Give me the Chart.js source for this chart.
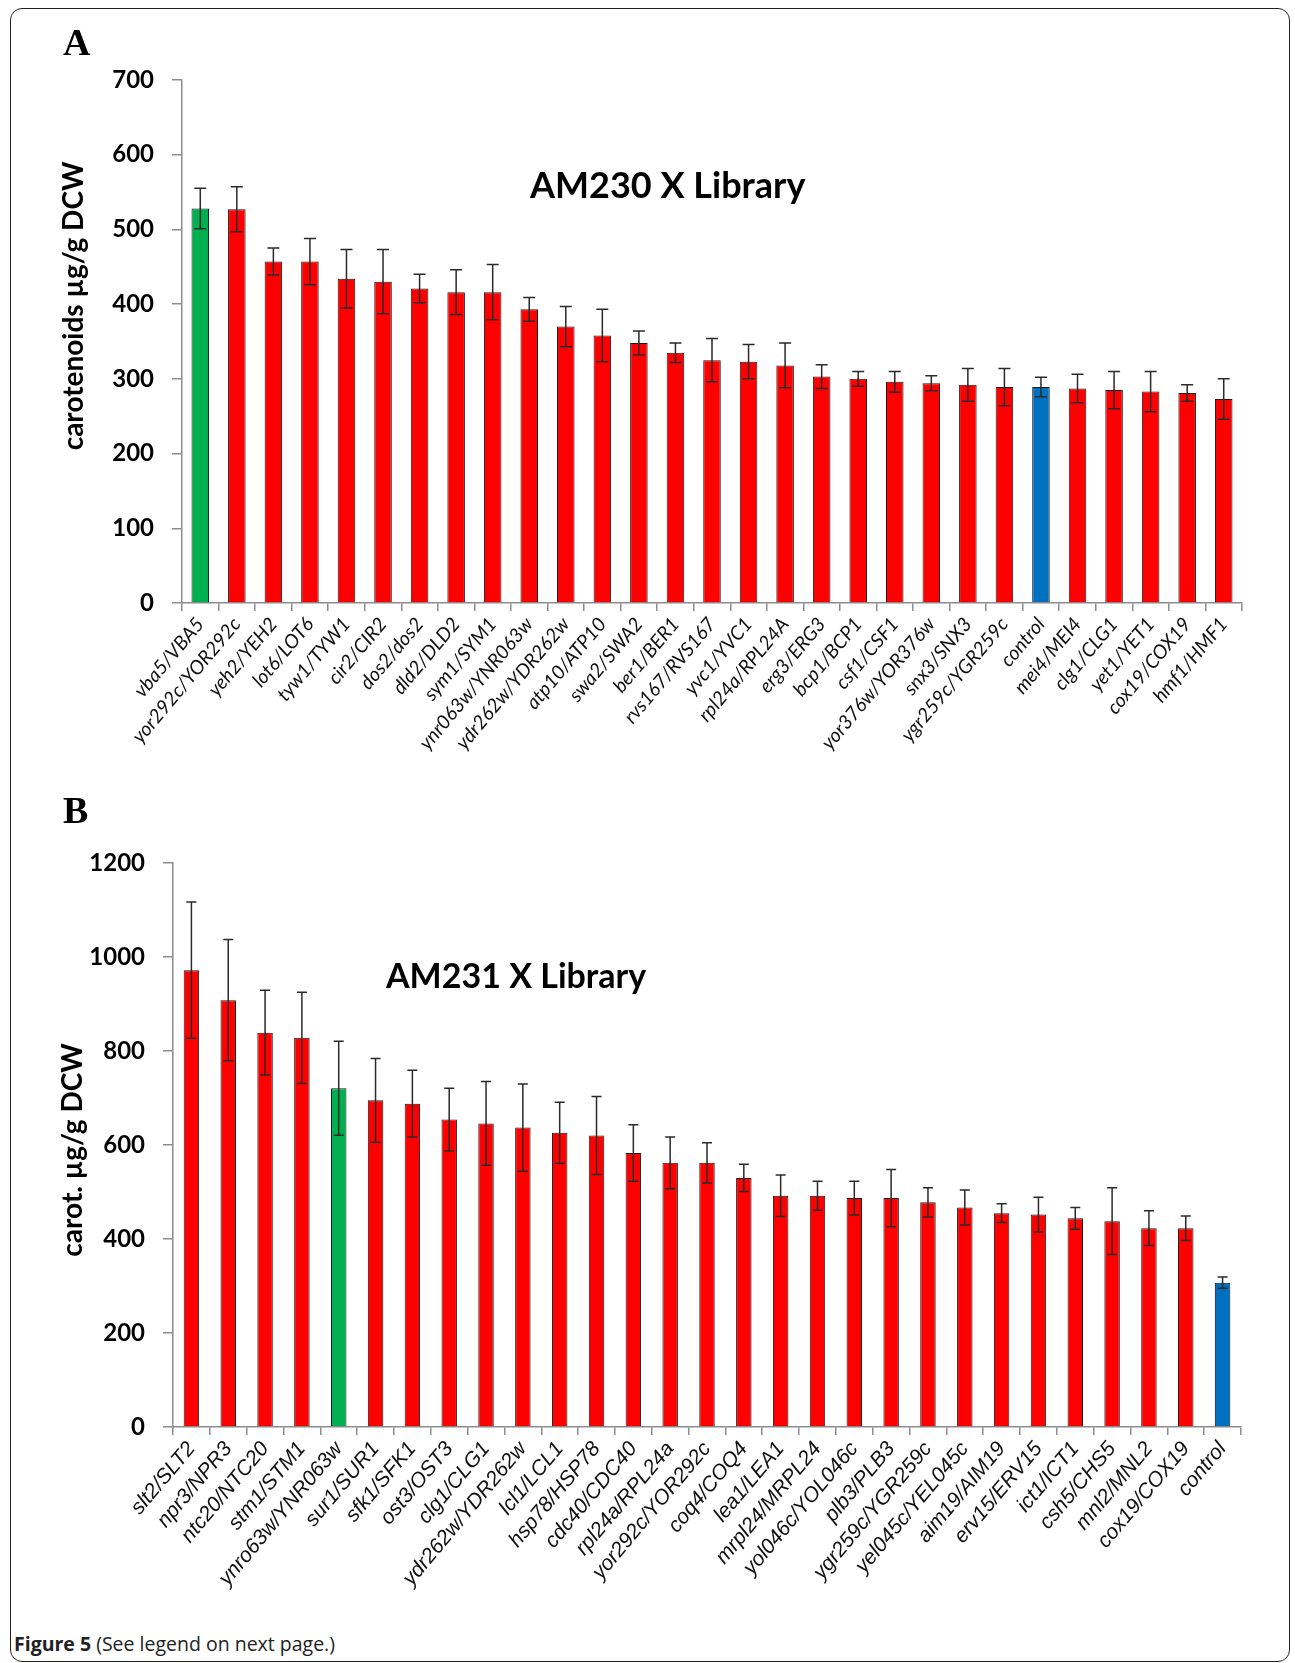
<!DOCTYPE html>
<html>
<head>
<meta charset="utf-8">
<title>Figure 5</title>
<script src="https://cdn.jsdelivr.net/npm/chart.js@4.4.1/dist/chart.umd.min.js"></script>
<style>
  html, body { margin: 0; padding: 0; background: #fff; }
  body { position: relative; width: 1295px; height: 1663px; overflow: hidden; }
  canvas { position: absolute; left: 0; }
  #chartA { top: 0; }
  #chartB { top: 790px; }
  .frame {
    position: absolute; left: 10px; top: 8px; width: 1280px; height: 1654px;
    border: 1.5px solid #222; border-radius: 12px; box-sizing: border-box;
  }
  .caption {
    position: absolute; left: 14px; top: 1630px; line-height: 1;
    font: 19.5px "Open Sans", sans-serif; color: #222;
  }
  .caption b { font-weight: 700; }
</style>
</head>
<body>
<div class="frame"></div>
<canvas id="chartA" width="1295" height="790"></canvas>
<canvas id="chartB" width="1295" height="840"></canvas>
<div class="caption"><b>Figure 5</b> (See legend on next page.)</div>
<script>
// Panel A: AM230 X Library
const labelsA = ['vba5/VBA5', 'yor292c/YOR292c', 'yeh2/YEH2', 'lot6/LOT6', 'tyw1/TYW1', 'cir2/CIR2',
  'dos2/dos2', 'dld2/DLD2', 'sym1/SYM1', 'ynr063w/YNR063w', 'ydr262w/YDR262w', 'atp10/ATP10',
  'swa2/SWA2', 'ber1/BER1', 'rvs167/RVS167', 'yvc1/YVC1', 'rpl24a/RPL24A', 'erg3/ERG3', 'bcp1/BCP1',
  'csf1/CSF1', 'yor376w/YOR376w', 'snx3/SNX3', 'ygr259c/YGR259c', 'control', 'mei4/MEI4',
  'clg1/CLG1', 'yet1/YET1', 'cox19/COX19', 'hmf1/HMF1'];
const valuesA = [528, 527, 457, 457, 434, 430, 421, 416, 416, 393, 370, 358, 348, 335, 325, 323,
  318, 303, 300, 296, 294, 292, 289, 289, 287, 285, 283, 281, 273];
const errorsA = [27, 30, 18, 31, 39, 43, 19, 30, 37, 16, 27, 35, 16, 13, 29, 23, 30, 16, 10, 14,
  10, 22, 25, 13, 19, 25, 27, 11, 27];
const ticksA = [0, 100, 200, 300, 400, 500, 600, 700];

// Panel B: AM231 X Library
const labelsB = ['slt2/SLT2', 'npr3/NPR3', 'ntc20/NTC20', 'stm1/STM1', 'ynro63w/YNR063w', 'sur1/SUR1',
  'sfk1/SFK1', 'ost3/OST3', 'clg1/CLG1', 'ydr262w/YDR262w', 'lcl1/LCL1', 'hsp78/HSP78', 'cdc40/CDC40',
  'rpl24a/RPL24a', 'yor292c/YOR292c', 'coq4/COQ4', 'lea1/LEA1', 'mrpl24/MRPL24', 'yol046c/YOL046c',
  'plb3/PLB3', 'ygr259c/YGR259c', 'yel045c/YEL045c', 'aim19/AIM19', 'erv15/ERV15', 'ict1/ICT1',
  'csh5/CHS5', 'mnl2/MNL2', 'cox19/COX19', 'control'];
const valuesB = [972, 908, 839, 828, 721, 695, 688, 654, 646, 637, 626, 620, 583, 562, 562, 530,
  492, 492, 487, 487, 478, 467, 455, 452, 444, 438, 423, 423, 307];
const errorsB = [145, 129, 90, 97, 100, 89, 71, 67, 89, 93, 65, 83, 60, 55, 43, 29, 44, 31, 36,
  61, 31, 37, 20, 37, 23, 71, 37, 26, 12];
const ticksB = [0, 200, 400, 600, 800, 1000, 1200];

const highlightA = 'vba5/VBA5';
const highlightB = 'ynro63w/YNR063w';

const RED = '#ff0000', GREEN = '#00b050', BLUE = '#0070c0';
const AXIS = '#8c8c8c';

function barColors(labels, highlight) {
  return labels.map(l => l === highlight ? GREEN : (l === 'control' ? BLUE : RED));
}

// symmetric error bars from dataset.errors
const errorBars = {
  id: 'errorBars',
  afterDatasetsDraw(chart, args, opts) {
    const ctx = chart.ctx;
    const y = chart.scales.y;
    const ds = chart.data.datasets[0];
    const meta = chart.getDatasetMeta(0);
    ctx.save();
    ctx.strokeStyle = opts.color;
    ctx.lineWidth = opts.width;
    meta.data.forEach((bar, i) => {
      const v = ds.data[i], e = ds.errors[i];
      const top = y.getPixelForValue(v + e);
      const bot = y.getPixelForValue(v - e);
      const half = opts.cap / 2;
      ctx.beginPath();
      ctx.moveTo(bar.x, top); ctx.lineTo(bar.x, bot);
      ctx.moveTo(bar.x - half, top); ctx.lineTo(bar.x + half, top);
      ctx.moveTo(bar.x - half, bot); ctx.lineTo(bar.x + half, bot);
      ctx.stroke();
    });
    ctx.restore();
  }
};

// free text: panel letter, panel title, y axis title
const panelText = {
  id: 'panelText',
  afterDraw(chart, args, opts) {
    const ctx = chart.ctx;
    ctx.save();
    ctx.fillStyle = '#000';
    opts.items.forEach(it => {
      ctx.save();
      ctx.font = it.font;
      ctx.translate(it.x, it.y);
      if (it.rotate) {
        ctx.rotate(-Math.PI / 2);
        ctx.textAlign = 'center';
        ctx.textBaseline = 'middle';
      } else {
        ctx.textAlign = 'left';
        ctx.textBaseline = 'alphabetic';
      }
      ctx.fillText(it.text, 0, 0);
      ctx.restore();
    });
    ctx.restore();
  }
};

function makeChart(id, cfg) {
  return new Chart(document.getElementById(id), {
    type: 'bar',
    data: {
      labels: cfg.labels,
      datasets: [{
        data: cfg.values,
        errors: cfg.errors,
        backgroundColor: barColors(cfg.labels, cfg.highlight),
        borderColor: '#1a1a1a',
        borderWidth: 1,
        categoryPercentage: 1,
        barPercentage: cfg.barPct
      }]
    },
    options: {
      responsive: false,
      animation: false,
      layout: { padding: cfg.padding },
      plugins: {
        legend: { display: false },
        tooltip: { enabled: false },
        errorBars: { color: '#2a2a2a', width: 1.5, cap: cfg.cap },
        panelText: { items: cfg.texts }
      },
      scales: {
        x: {
          grid: { display: true, drawOnChartArea: false, drawTicks: true, tickLength: 8, color: AXIS, lineWidth: 1.5 },
          border: { color: AXIS, width: 1.5 },
          ticks: {
            autoSkip: false, maxRotation: cfg.rot, minRotation: cfg.rot, padding: 2,
            color: '#111', font: cfg.xFont
          },
          afterFit(s) { s.height = cfg.xHeight; s.paddingLeft = 0; s.paddingRight = 0; }
        },
        y: {
          min: 0,
          max: cfg.ticks[cfg.ticks.length - 1],
          afterBuildTicks(s) { s.ticks = cfg.ticks.map(v => ({ value: v })); },
          grid: { display: true, drawOnChartArea: false, drawTicks: true, tickLength: 10, color: AXIS, lineWidth: 1.5 },
          border: { color: AXIS, width: 1.5 },
          ticks: {
            padding: 18, color: '#000',
            font: { family: 'Lato', size: 24, weight: 'bold' },
            callback: v => String(v)
          },
          afterFit(s) { s.width = cfg.yWidth; s.paddingTop = 0; s.paddingBottom = 0; }
        }
      }
    },
    plugins: [errorBars, panelText]
  });
}

function draw() {
  makeChart('chartA', {
    labels: labelsA, values: valuesA, errors: errorsA, ticks: ticksA, highlight: highlightA,
    barPct: 0.48, cap: 12, rot: 50,
    xFont: { family: 'Lato', size: 19.5, style: 'italic' },
    padding: { left: 0, right: 53, top: 80, bottom: 0 },
    yWidth: 182, xHeight: 187,
    texts: [
      { text: 'A', x: 63, y: 55, font: 'bold 38px "Liberation Serif"' },
      { text: 'AM230 X Library', x: 530, y: 198, font: 'bold 36px Lato' },
      { text: 'carotenoids \u00b5g/g DCW', x: 74, y: 306, font: 'bold 28px Lato', rotate: true }
    ]
  });
  makeChart('chartB', {
    labels: labelsB, values: valuesB, errors: errorsB, ticks: ticksB, highlight: highlightB,
    barPct: 0.42, cap: 10, rot: 50,
    xFont: { family: 'Liberation Sans', size: 21, style: 'italic' },
    padding: { left: 0, right: 54, top: 73, bottom: 0 },
    yWidth: 173, xHeight: 203,
    texts: [
      { text: 'B', x: 63, y: 33, font: 'bold 38px "Liberation Serif"' },
      { text: 'AM231 X Library', x: 386, y: 198, font: 'bold 34px Lato' },
      { text: 'carot. \u00b5g/g DCW', x: 73, y: 360, font: 'bold 28px Lato', rotate: true }
    ]
  });
}

Promise.all([
  document.fonts.load('bold 24px Lato'),
  document.fonts.load('italic 19px Lato'),
  document.fonts.load('italic 21px "Liberation Sans"'),
  document.fonts.load('bold 38px "Liberation Serif"'),
  document.fonts.load('19px "Open Sans"')
]).then(draw, draw);
</script>
</body>
</html>
